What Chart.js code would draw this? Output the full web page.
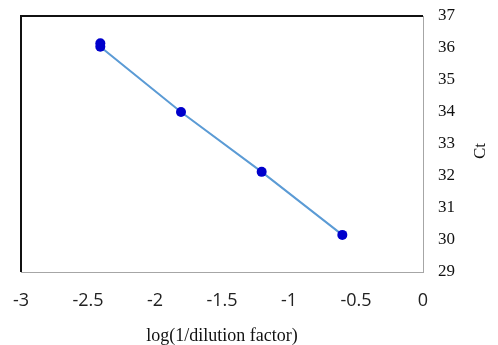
<!DOCTYPE html>
<html>
<head>
<meta charset="utf-8">
<script src="https://cdn.jsdelivr.net/npm/chart.js@4.4.1/dist/chart.umd.min.js"></script>
<style>
  html, body { margin: 0; padding: 0; background: #fff; }
  #wrap { width: 498px; height: 345px; }
</style>
</head>
<body>
<div id="wrap"><canvas id="ctChart"></canvas></div>
<script>
// log(1/dilution factor) and measured Ct
const logDilution = [-2.408, -2.408, -1.806, -1.204, -0.602];
const ctValues = [36.15, 36.04, 34.0, 32.13, 30.16];

const xTicks = [-3, -2.5, -2, -1.5, -1, -0.5, 0];
const yTicks = [29, 30, 31, 32, 33, 34, 35, 36, 37];

// black top/left frame + "Ct" title read bottom-to-top
const framePlugin = {
    id: 'frame',
    afterDraw(chart) {
        const { ctx, chartArea: a } = chart;
        ctx.save();
        ctx.strokeStyle = '#111';
        ctx.lineWidth = 2;
        ctx.beginPath();
        ctx.moveTo(a.left, a.bottom);
        ctx.lineTo(a.left, a.top);
        ctx.lineTo(a.right, a.top);
        ctx.stroke();

        ctx.translate(481, (a.top + a.bottom) / 2 + 7);
        ctx.rotate(-Math.PI / 2);
        ctx.fillStyle = '#111';
        ctx.font = "17px 'Liberation Serif'";
        ctx.textAlign = 'center';
        ctx.textBaseline = 'middle';
        ctx.fillText('Ct', 0, 0);
        ctx.restore();
    }
};

new Chart(document.getElementById('ctChart'), {
    type: 'scatter',
    data: {
        datasets: [{
            data: logDilution.map((x, i) => ({ x: x, y: ctValues[i] })),
            showLine: true,
            borderColor: '#5b9bd5',
            borderWidth: 2,
            pointRadius: 5,
            pointHoverRadius: 5,
            pointBackgroundColor: '#0000cc',
            pointBorderColor: '#0000cc',
            pointBorderWidth: 0
        }]
    },
    options: {
        responsive: true,
        maintainAspectRatio: false,
        animation: false,
        layout: { padding: { top: 16, left: 21, right: 0, bottom: 0 } },
        plugins: { legend: { display: false }, tooltip: { enabled: false } },
        scales: {
            x: {
                type: 'linear',
                min: -3, max: 0,
                afterBuildTicks: s => { s.ticks = xTicks.map(v => ({ value: v })); },
                afterFit: s => { s.height = 73; s.paddingLeft = 0; s.paddingRight = 0; },
                grid: { display: false, drawTicks: false },
                border: { display: true, color: '#a6a6a6', width: 1 },
                ticks: {
                    padding: 18,
                    color: '#222',
                    font: { family: "'Open Sans', sans-serif", size: 18 },
                    callback: v => String(v)
                },
                title: {
                    display: true,
                    text: 'log(1/dilution factor)',
                    color: '#111',
                    padding: { top: 0, bottom: -2 },
                    font: { family: "'Liberation Serif', serif", size: 18 }
                }
            },
            y: {
                type: 'linear',
                position: 'right',
                min: 29, max: 37,
                afterBuildTicks: s => { s.ticks = yTicks.map(v => ({ value: v })); },
                afterFit: s => { s.width = 75; s.paddingTop = 0; s.paddingBottom = 0; },
                grid: { display: false, drawTicks: false },
                border: { display: true, color: '#a6a6a6', width: 1 },
                ticks: {
                    padding: 15,
                    color: '#111',
                    font: { family: "'Liberation Serif', serif", size: 17 }
                }
            }
        }
    },
    plugins: [framePlugin]
});
</script>
</body>
</html>
